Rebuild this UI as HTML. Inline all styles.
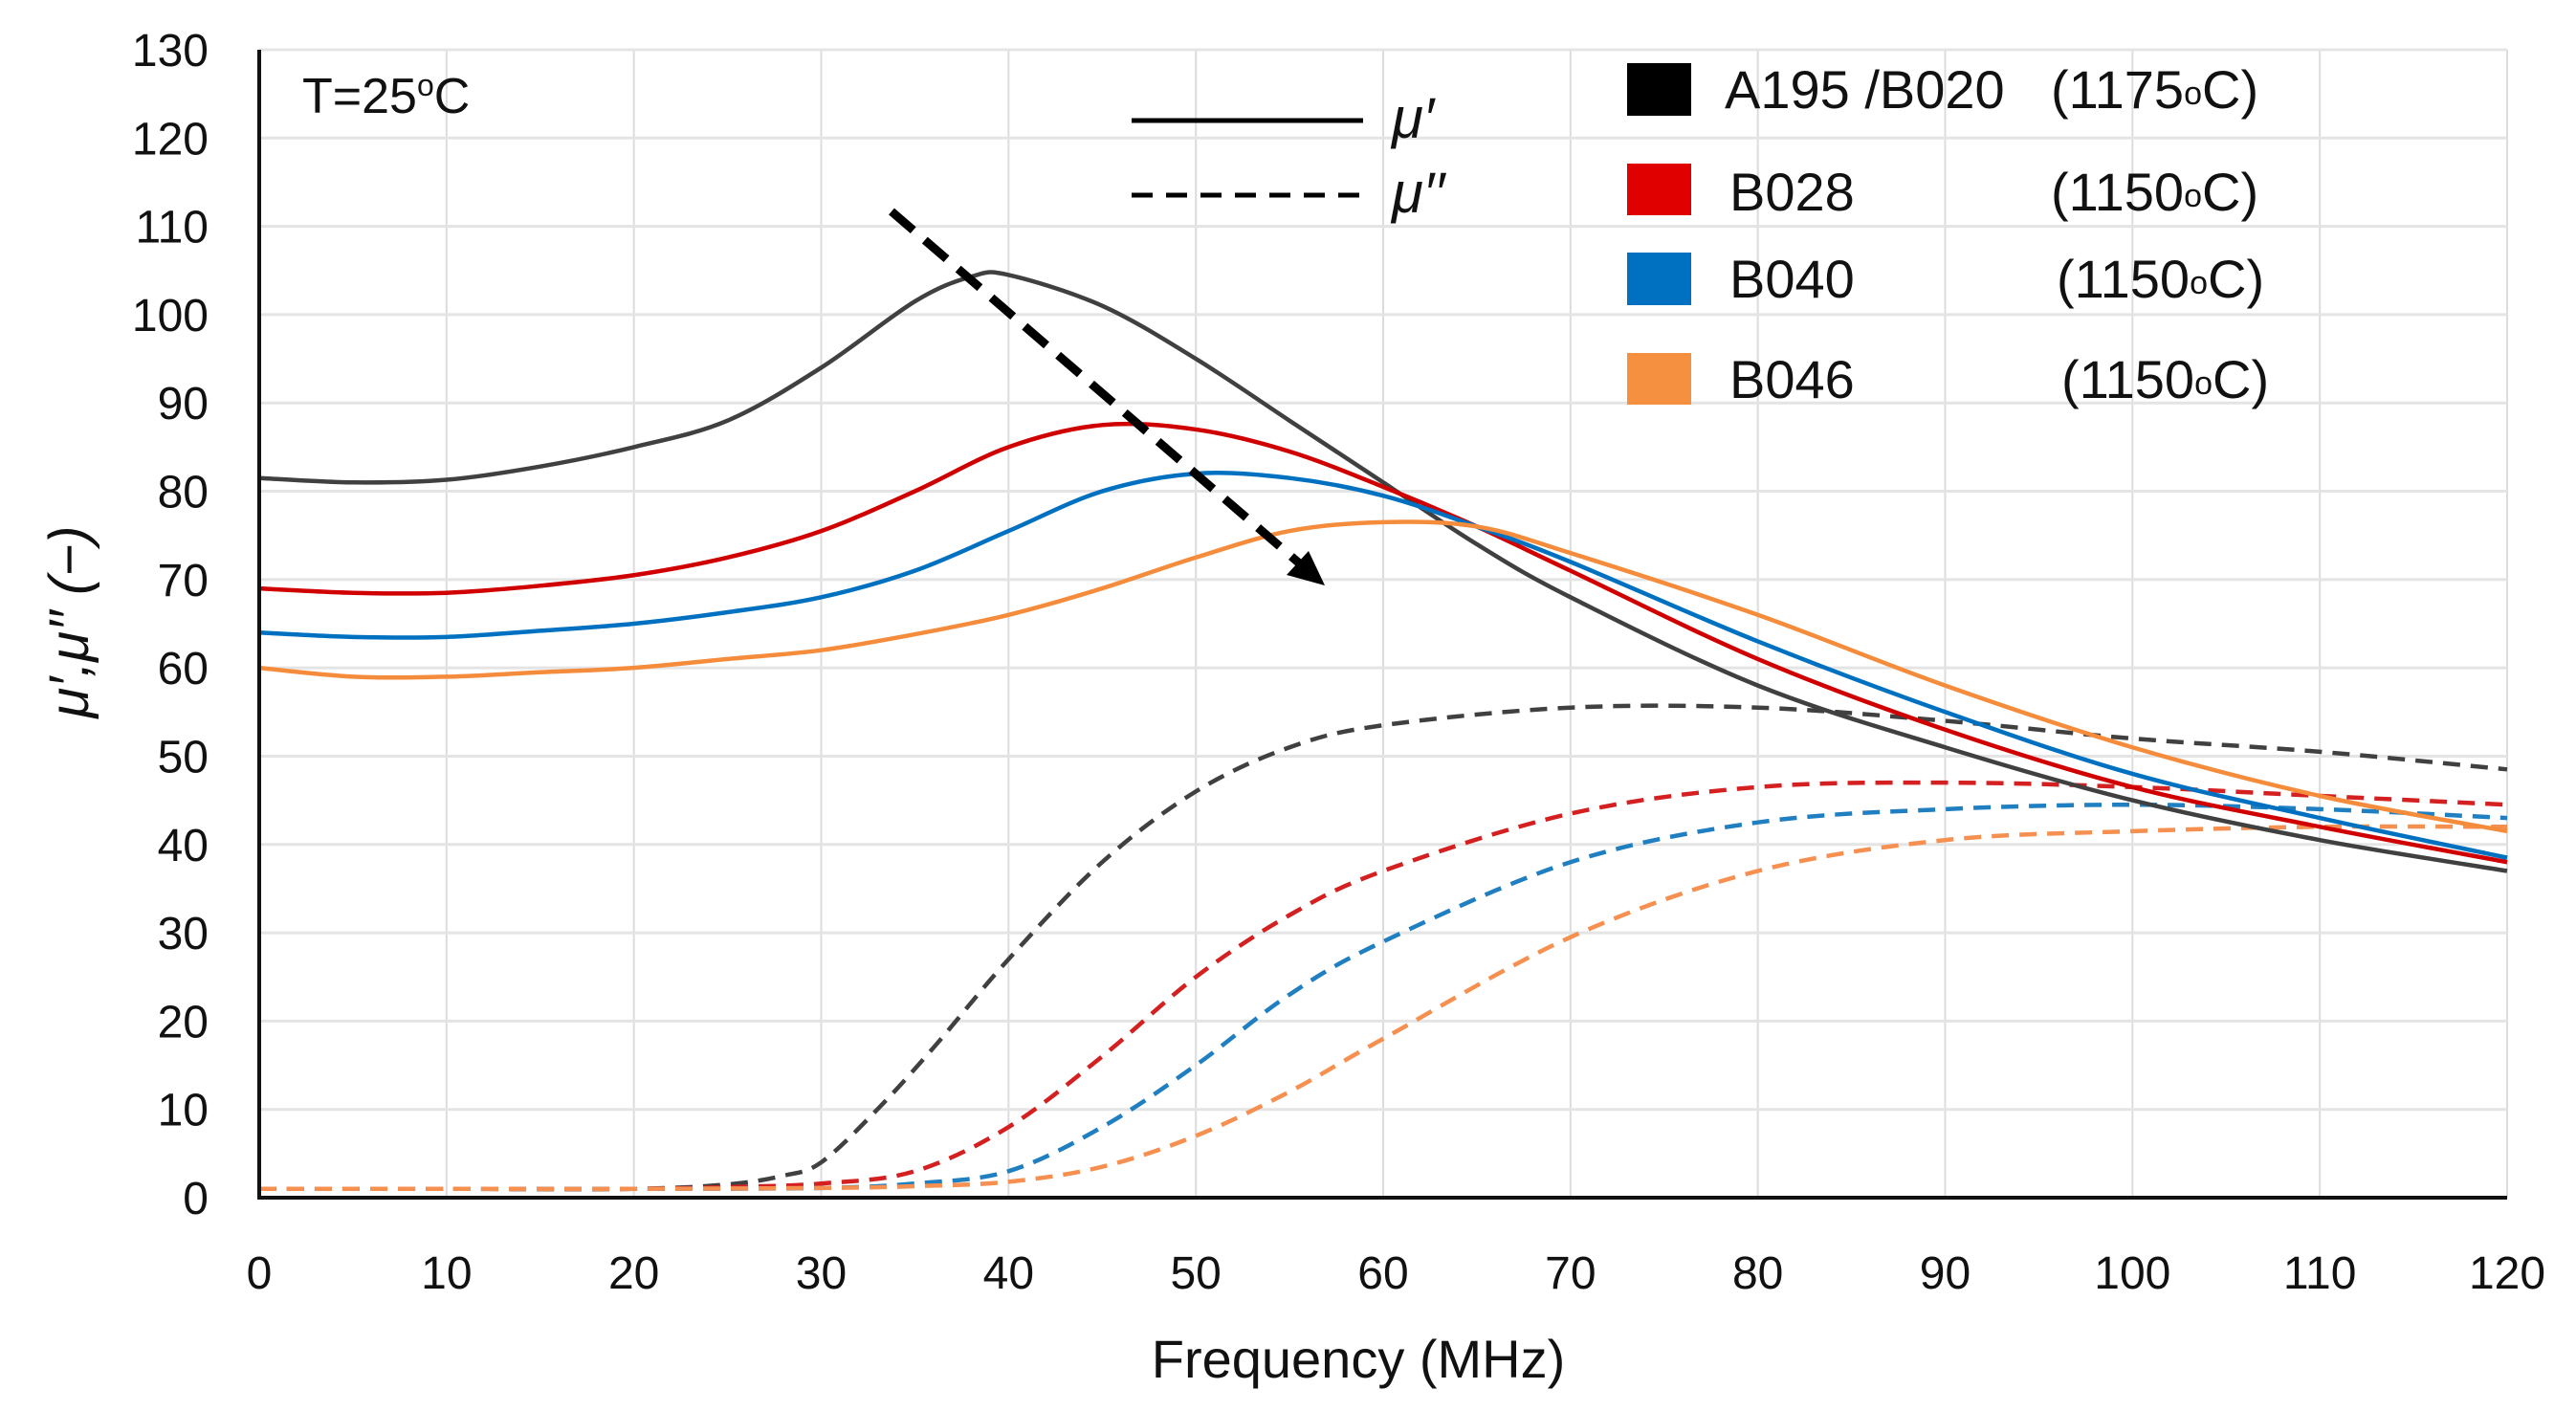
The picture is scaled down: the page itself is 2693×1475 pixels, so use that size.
<!DOCTYPE html>
<html><head><meta charset="utf-8"><style>
body{margin:0;background:#fff}
svg{display:block}
text{font-family:"Liberation Sans",sans-serif;fill:#111}
</style></head><body>
<svg id="chart" width="2693" height="1475" viewBox="0 0 2693 1475" xmlns="http://www.w3.org/2000/svg">
<g id="grid"></g>
<g id="series"></g>
<g id="axes"></g>
<text x="316" y="118" font-size="52">T=25<tspan font-size="32" dy="-18">o</tspan><tspan dy="18">C</tspan></text>
<text transform="translate(92,650) rotate(-90)" text-anchor="middle" font-size="58" font-style="italic" font-family="Liberation Serif,serif">μ′,μ′′ (−)</text>
<text x="1420" y="1440" text-anchor="middle" font-size="56">Frequency (MHz)</text>
<g>
<line x1="932" y1="221" x2="1362" y2="592" stroke="#000" stroke-width="9" stroke-dasharray="30,16"/>
<polygon points="1385,612 1345,601 1368,576" fill="#000"/>
</g>
<g>
<line x1="1183" y1="126" x2="1425" y2="126" stroke="#000" stroke-width="5"/>
<line x1="1183" y1="204" x2="1425" y2="204" stroke="#000" stroke-width="5" stroke-dasharray="22,14"/>
<text x="1455" y="144" font-size="60" font-style="italic" font-family="Liberation Serif,serif">μ′</text>
<text x="1455" y="222" font-size="60" font-style="italic" font-family="Liberation Serif,serif">μ′′</text>
</g>
<g>
<rect x="1701" y="66" width="67" height="55" fill="#000"/>
<text x="1803" y="113" font-size="56">A195 /B020</text>
<text x="2144" y="113" font-size="56">(1175<tspan font-size="34" dy="-4">o</tspan><tspan dy="4">C)</tspan></text>
<rect x="1701" y="171" width="67" height="54" fill="#e00000"/>
<text x="1808" y="220" font-size="56">B028</text>
<text x="2144" y="220" font-size="56">(1150<tspan font-size="34" dy="-4">o</tspan><tspan dy="4">C)</tspan></text>
<rect x="1701" y="264" width="67" height="55" fill="#0070c0"/>
<text x="1808" y="311" font-size="56">B040</text>
<text x="2150" y="311" font-size="56">(1150<tspan font-size="34" dy="-4">o</tspan><tspan dy="4">C)</tspan></text>
<rect x="1701" y="369" width="67" height="54" fill="#f59040"/>
<text x="1808" y="416" font-size="56">B046</text>
<text x="2155" y="416" font-size="56">(1150<tspan font-size="34" dy="-4">o</tspan><tspan dy="4">C)</tspan></text>
</g>
</svg>
<script>
const xTicks=[0,10,20,30,40,50,60,70,80,90,100,110,120];
const yTicks=[0,10,20,30,40,50,60,70,80,90,100,110,120,130];
const blackReX=[0,5,10,15,20,25,30,35,38,40,45,50,55,60,65,70,80,90,100,110,120];
const blackRe=[81.5,81,81.3,82.8,85,88,94,101.5,104.3,104.5,101,95,88,81,74,68,58,51,45,40.5,37];
const redReX=[0,5,10,15,20,25,30,35,40,45,50,55,60,65,70,80,90,100,110,120];
const redRe=[69,68.5,68.5,69.3,70.5,72.5,75.5,80,85,87.5,87,84.5,80.5,76,71,61,53,46.5,42,38];
const blueReX=[0,5,10,15,20,25,30,35,40,45,50,55,60,65,70,80,90,100,110,120];
const blueRe=[64,63.5,63.5,64.2,65,66.3,68,71,75.5,80,82,81.5,79.5,76,72,63,55,48,43,38.5];
const orangeReX=[0,5,10,15,20,25,30,35,40,45,50,55,60,65,70,80,90,100,110,120];
const orangeRe=[60,59,59,59.5,60,61,62,63.8,66,69,72.5,75.5,76.5,76,73,66,58,51,45.5,41.5];
const blackImX=[0,10,20,25,28,30,33,36,40,45,50,55,60,70,80,90,100,110,120];
const blackIm=[1,1,1,1.5,2.5,4,10,17,27,38,46,51,53.5,55.5,55.5,54,52,50.5,48.5];
const redImX=[0,10,20,25,30,35,40,45,50,55,60,70,80,90,100,110,120];
const redIm=[1,1,1,1.2,1.6,3,8,16,25,32,37,43.5,46.5,47,46.5,45.5,44.5];
const blueImX=[0,10,20,30,35,40,45,50,55,60,70,80,90,100,110,120];
const blueIm=[1,1,1,1.1,1.6,3,8,15,23,29,38,42.5,44,44.5,44,43];
const orangeImX=[0,10,20,30,35,40,45,50,55,60,70,80,90,100,110,120];
const orangeIm=[1,1,1,1.1,1.3,1.8,3.5,7,12,18,29.5,37,40.5,41.5,42,42];

const L=271,R=2621,T=52,B=1252;
const sx=v=>L+(v-0)/120*(R-L);
const sy=v=>B-(v-0)/130*(B-T);
const NS='http://www.w3.org/2000/svg';
function mk(tag,attrs,parent){const e=document.createElementNS(NS,tag);for(const k in attrs)e.setAttribute(k,attrs[k]);parent.appendChild(e);return e;}
const grid=document.getElementById('grid'),axes=document.getElementById('axes'),ser=document.getElementById('series');
xTicks.forEach(t=>{
  const g=mk('line',{x1:sx(t),x2:sx(t),y1:T,y2:B,stroke:'#dcdcdc','stroke-width':2},grid);
  
  
  const l=mk('text',{x:sx(t),y:1347,'text-anchor':'middle','font-size':48},axes);
  l.textContent=t;
  
  
});
yTicks.forEach(t=>{
  const g=mk('line',{x1:L,x2:R,y1:sy(t),y2:sy(t),stroke:'#e4e4e4','stroke-width':3},grid);
  
  
  const l=mk('text',{x:218,y:sy(t)+17,'text-anchor':'end','font-size':48},axes);
  l.textContent=t;
  
  
});
const ya=mk('line',{x1:L,x2:L,y1:T,y2:B+2,stroke:'#111','stroke-width':4},axes);


const xa=mk('line',{x1:L-2,x2:R,y1:B,y2:B,stroke:'#111','stroke-width':4},axes);


function pathD(xs,ys){
  const p=xs.map((x,i)=>[sx(x),sy(ys[i])]);
  let d='M'+p[0][0]+','+p[0][1];
  for(let i=0;i<p.length-1;i++){
    const p0=p[Math.max(0,i-1)],p1=p[i],p2=p[i+1],p3=p[Math.min(p.length-1,i+2)];
    const c1=[p1[0]+(p2[0]-p0[0])/6,p1[1]+(p2[1]-p0[1])/6];
    const c2=[p2[0]-(p3[0]-p1[0])/6,p2[1]-(p3[1]-p1[1])/6];
    d+=' C'+c1+' '+c2+' '+p2;
  }
  return d;
}
const list=[
 [blackImX,blackIm,'#404040',true,'series-a195-imag'],
 [redImX,redIm,'#d42020',true,'series-b028-imag'],
 [blueImX,blueIm,'#1f7fc0',true,'series-b040-imag'],
 [orangeImX,orangeIm,'#f59050',true,'series-b046-imag'],
 [blackReX,blackRe,'#404040',false,'series-a195-real'],
 [redReX,redRe,'#d00000',false,'series-b028-real'],
 [blueReX,blueRe,'#0070c0',false,'series-b040-real'],
 [orangeReX,orangeRe,'#f58c3c',false,'series-b046-real']
];
list.forEach(([xs,ys,c,dash,name])=>{
  const a={d:pathD(xs,ys),fill:'none',stroke:c,'stroke-width':4.5};
  if(dash)a['stroke-dasharray']='18,11';
  const p=mk('path',a,ser);
  
  
});
</script>
</body></html>
